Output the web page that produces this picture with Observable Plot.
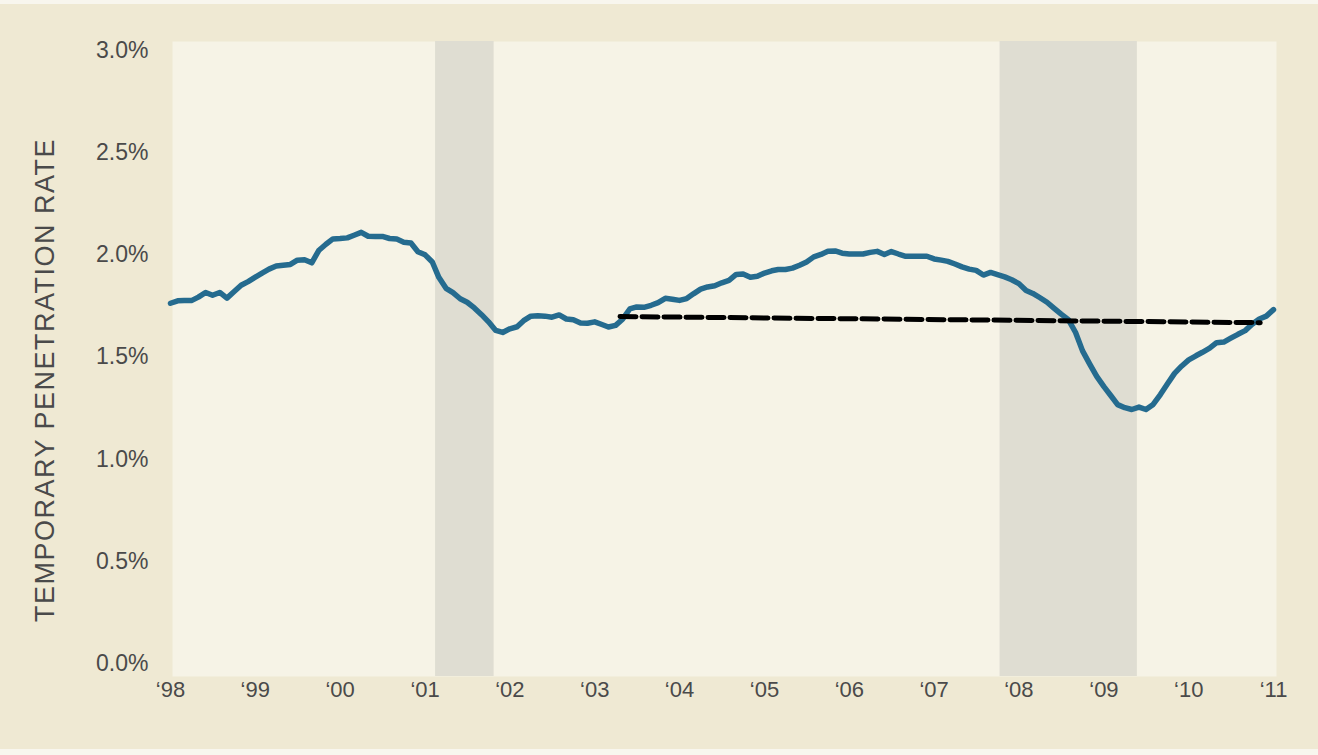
<!DOCTYPE html>
<html>
<head>
<meta charset="utf-8">
<script src="https://cdn.jsdelivr.net/npm/d3@7"></script>
<script src="https://cdn.jsdelivr.net/npm/@observablehq/plot@0.6"></script>
<style>
  html, body { margin: 0; padding: 0; background: #f8f6ee; }
  body { padding-top: 4px; }
  #chart svg { display: block; background: #efe9d3; }
  #chart g[aria-label="text"] text { letter-spacing: 1.5px; }
</style>
</head>
<body>
<div id="chart"></div>
<script>
// Monthly temporary penetration rate (%), starting January 1998
const startMonth = "1998-01-01";
const rateValues = [
  1.763,1.775,1.776,1.776,1.793,1.816,1.802,1.816,1.788,1.819,1.851,1.869,
  1.891,1.912,1.930,1.945,1.949,1.953,1.974,1.976,1.961,2.021,2.052,2.078,
  2.080,2.083,2.096,2.110,2.091,2.090,2.090,2.080,2.077,2.062,2.058,2.015,
  2.000,1.965,1.890,1.836,1.815,1.785,1.768,1.740,1.707,1.672,1.630,1.620,
  1.638,1.648,1.678,1.700,1.702,1.700,1.695,1.706,1.686,1.682,1.666,1.665,
  1.672,1.659,1.647,1.655,1.685,1.735,1.745,1.743,1.753,1.766,1.787,1.783,
  1.777,1.786,1.809,1.832,1.843,1.849,1.863,1.875,1.904,1.906,1.890,1.895,
  1.911,1.922,1.928,1.928,1.935,1.949,1.965,1.990,2.002,2.018,2.019,2.008,
  2.004,2.004,2.004,2.012,2.017,2.002,2.016,2.004,1.993,1.993,1.993,1.993,
  1.980,1.974,1.968,1.955,1.941,1.930,1.924,1.901,1.914,1.903,1.892,1.878,
  1.859,1.825,1.811,1.790,1.768,1.738,1.710,1.683,1.620,1.530,1.465,1.405,
  1.355,1.309,1.267,1.252,1.243,1.255,1.243,1.268,1.316,1.368,1.420,1.455,
  1.486,1.506,1.523,1.543,1.570,1.573,1.592,1.611,1.629,1.660,1.686,1.700,
  1.732
];

// Dashed reference line
const trendDates = ["2003-04-20", "2010-11-05"];
const trendValues = [1.698, 1.668];

// Recession periods (shaded)
const recessionStarts = ["2001-02-15", "2007-10-12"];
const recessionEnds = ["2001-10-25", "2009-05-25"];

// Axis ticks
const xTickYears = [1998,1999,2000,2001,2002,2003,2004,2005,2006,2007,2008,2009,2010,2011];
const xTickLabels = ["‘98","‘99","‘00","‘01","‘02","‘03","‘04","‘05","‘06","‘07","‘08","‘09","‘10","‘11"];
const yTicks = [0, 0.5, 1.0, 1.5, 2.0, 2.5, 3.0];
const yTickLabels = ["0.0%","0.5%","1.0%","1.5%","2.0%","2.5%","3.0%"];
const yTitle = "TEMPORARY PENETRATION RATE";

// Build tables
const start = new Date(startMonth);
const series = rateValues.map((v, i) => ({date: d3.utcMonth.offset(start, i), value: v}));
const trend = trendDates.map((d, i) => ({date: new Date(d), value: trendValues[i]}));
const recessions = recessionStarts.map((s, i) => ({start: new Date(s), end: new Date(recessionEnds[i])}));
const xTicks = xTickYears.map(y => new Date(Date.UTC(y, 0, 1)));
const xLabelOf = new Map(xTicks.map((d, i) => [+d, xTickLabels[i]]));
const yLabelOf = new Map(yTicks.map((d, i) => [d, yTickLabels[i]]));

const chart = Plot.plot({
  width: 1318,
  height: 745,
  marginLeft: 170,
  marginRight: 45,
  marginTop: 46,
  marginBottom: 86,
  style: {fontFamily: "'Liberation Sans', Arial, Helvetica, sans-serif", color: "#4a4a4a", background: "#efe9d3"},
  x: {type: "utc", domain: [xTicks[0], xTicks[xTicks.length - 1]]},
  y: {domain: [0, 3]},
  marks: [
    Plot.frame({fill: "#f6f3e6", stroke: null, insetLeft: 2, insetRight: -3, insetTop: -9, insetBottom: -13}),
    Plot.rect(recessions, {x1: "start", x2: "end", fill: "#dfddd2", insetTop: -9, insetBottom: -13}),
    Plot.axisY({ticks: yTicks, tickSize: 0, tickPadding: 22, tickFormat: d => yLabelOf.get(d), fontSize: 23, label: null}),
    Plot.axisX({ticks: xTicks, tickSize: 0, tickPadding: 18, tickFormat: d => xLabelOf.get(+d), fontSize: 22, label: null}),
    Plot.text([yTitle], {frameAnchor: "left", text: d => d, rotate: -90, dx: -125, dy: 23, fontSize: 27, fill: "#4a4a4a", textAnchor: "middle"}),
    Plot.line(series, {x: "date", y: "value", stroke: "#256b8f", strokeWidth: 5.5, strokeLinejoin: "round", strokeLinecap: "round"}),
    Plot.line(trend, {x: "date", y: "value", stroke: "#000", strokeWidth: 5, strokeDasharray: "16,6"})
  ]
});
document.getElementById("chart").appendChild(chart);
</script>
</body>
</html>
